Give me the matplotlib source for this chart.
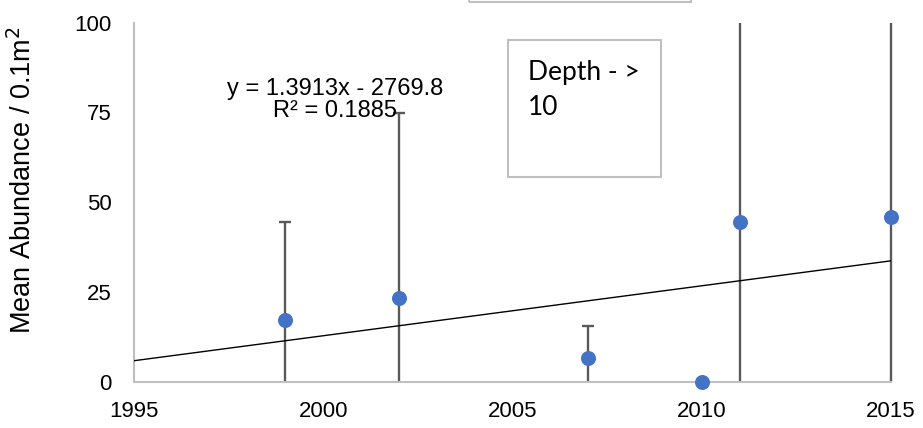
import matplotlib
matplotlib.use('Agg')
import matplotlib.pyplot as plt
from matplotlib.patches import Rectangle
from matplotlib.transforms import Bbox, TransformedBbox

years = [1999, 2002, 2007, 2010, 2011, 2015]
abundance = [17.2, 23.2, 6.7, 0.0, 44.5, 46.0]
err = [27.2, 51.6, 8.8, 0.0, 70.0, 65.0]
slope, intercept = 1.3913, -2769.8
trend_x = [1995, 2015]
xticks = [1995, 2000, 2005, 2010, 2015]
yticks = [0, 25, 50, 75, 100]

plt.rcParams['font.family'] = ['Liberation Sans', 'DejaVu Sans']

fig = plt.figure(figsize=(9.23, 4.28), dpi=100)
ax = fig.add_axes([0.1452, 0.1082, 0.8201, 0.8388])

eb = ax.errorbar(years, abundance, yerr=err, fmt='none', ecolor='#595959',
                 elinewidth=1.7, capsize=4.2, capthick=1.7, zorder=2)
# clip only vertically so the bar on the right edge keeps its full width
clip = TransformedBbox(Bbox([[1994, 0], [2016, 100]]), ax.transData)
for art in list(eb.lines[1]) + list(eb.lines[2]):
    art.set_clip_box(clip)

ax.plot(trend_x, [slope * x + intercept for x in trend_x], color='black', lw=1.0, zorder=3)
ax.plot(years, abundance, 'o', color='#4472C4', markersize=10.8, mec='none',
        clip_on=False, zorder=4)

ax.set_xlim(1995, 2015)
ax.set_ylim(0, 100)
ax.set_xticks(xticks)
ax.set_yticks(yticks)
ax.tick_params(length=0, labelsize=16)
ax.tick_params(axis='y', pad=16)
ax.tick_params(axis='x', pad=14)
for s in ['top', 'right']:
    ax.spines[s].set_visible(False)
for s in ['left', 'bottom']:
    ax.spines[s].set_color('#bfbfbf')
    ax.spines[s].set_linewidth(1.5)

fig.text(23 / 923, 1 - 180 / 428, 'Mean Abundance / 0.1m$^2$', rotation=90,
         ha='center', va='center', fontsize=19.5)

fig.text(335 / 923, 1 - 100 / 428, 'y = 1.3913x - 2769.8\nR² = 0.1885',
         ha='center', va='center', fontsize=17, linespacing=0.98)

fig.patches.append(Rectangle((508 / 923, 1 - 177 / 428), 153 / 923, 137 / 428,
                             transform=fig.transFigure, fill=False,
                             edgecolor='#bfbfbf', lw=1.5))
fig.text(528 / 923, 1 - 80 / 428, 'Depth - >', ha='left', va='baseline',
         fontsize=19, family=['Lato', 'DejaVu Sans'])
fig.text(528 / 923, 1 - 115 / 428, '10', ha='left', va='baseline',
         fontsize=19, family=['Lato', 'DejaVu Sans'])

fig.patches.append(Rectangle((469 / 923, 1 - 1.5 / 428), 222 / 923, 20 / 428,
                             transform=fig.transFigure, fill=False,
                             edgecolor='#bfbfbf', lw=1.5))

fig.savefig('out.png', dpi=100)
